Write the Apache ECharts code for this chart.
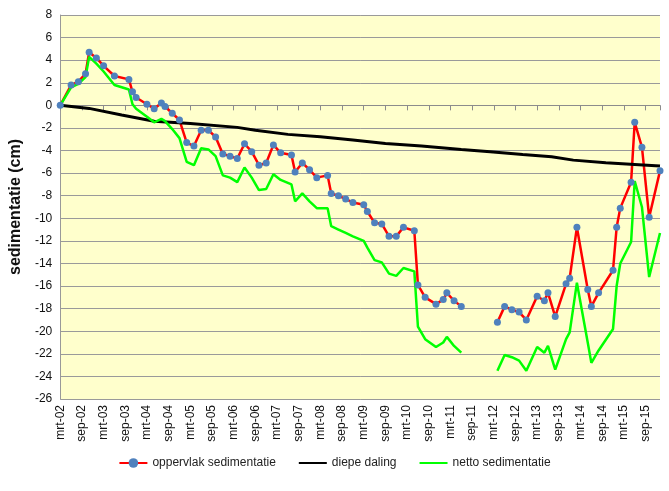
<!DOCTYPE html>
<html>
<head>
<meta charset="utf-8">
<script src="https://cdn.jsdelivr.net/npm/echarts@6/dist/echarts.min.js"></script>
<style>
html, body { margin: 0; padding: 0; background: #fff; }
#chart { width: 669px; height: 491px; }
</style>
</head>
<body>
<div id="chart"></div>
<script>
// maanden sinds mrt-02
var tickLabels = ['mrt-02','sep-02','mrt-03','sep-03','mrt-04','sep-04','mrt-05','sep-05','mrt-06','sep-06',
    'mrt-07','sep-07','mrt-08','sep-08','mrt-09','sep-09','mrt-10','sep-10','mrt-11','sep-11',
    'mrt-12','sep-12','mrt-13','sep-13','mrt-14','sep-14','mrt-15','sep-15'];

// meetmomenten (null = gat in de reeks)
var months = [0, 3, 5, 7, 8, 10, 12, 15, 19, 20, 21, 24, 26, 28, 29, 31, 33, 35, 37, 39,
    41, 43, 45, 47, 49, 51, 53, 55, 57, 59, 61, 64, 65, 67, 69, 71, 74, 75, 77, 79,
    81, 84, 85, 87, 89, 91, 93, 95, 98, 99, 101, 104, 106, 107, 109, 111, 115,
    121, 123, 125, 127, 129, 132, 134, 135, 137, 140, 141, 143, 146, 147, 149, 153, 154, 155,
    158, 159, 161, 163, 166];

var oppervlak = [0, 1.8, 2.1, 2.8, 4.7, 4.2, 3.5, 2.6, 2.3, 1.2, 0.7, 0.1, -0.3, 0.2, -0.1, -0.7, -1.3, -3.3, -3.6, -2.2,
    -2.2, -2.8, -4.3, -4.5, -4.7, -3.4, -4.1, -5.3, -5.1, -3.5, -4.2, -4.4, -5.9, -5.1, -5.7, -6.4, -6.2, -7.8, -8.0, -8.3,
    -8.6, -8.8, -9.4, -10.4, -10.5, -11.6, -11.6, -10.8, -11.1, -15.9, -17.0, -17.6, -17.2, -16.6, -17.3, -17.8, null,
    -19.2, -17.8, -18.1, -18.3, -19.0, -16.9, -17.3, -16.6, -18.7, -15.8, -15.3, -10.8, -16.3, -17.8, -16.6, -14.6, -10.8, -9.1,
    -6.8, -1.5, -3.7, -9.9, -5.8];

var netto = [0, 1.6, 1.9, 2.5, 4.3, 3.7, 3.0, 1.8, 1.4, 0.1, -0.3, -1.0, -1.5, -1.2, -1.4, -2.1, -2.9, -5.0, -5.3, -3.8,
    -3.9, -4.5, -6.2, -6.4, -6.8, -5.5, -6.4, -7.5, -7.4, -6.1, -6.6, -7.0, -8.5, -7.8, -8.5, -9.1, -9.1, -10.7, -11.0, -11.3,
    -11.6, -12.0, -12.6, -13.7, -13.9, -14.9, -15.1, -14.4, -14.7, -19.6, -20.7, -21.4, -21.0, -20.5, -21.3, -21.9, null,
    -23.5, -22.1, -22.3, -22.6, -23.5, -21.4, -21.9, -21.3, -23.4, -20.7, -20.1, -15.7, -21.0, -22.8, -21.7, -19.8, -16.0, -14.0,
    -12.1, -6.7, -9.0, -15.2, -11.3];

var diepeMonths = [0, 8, 17, 26, 36, 49, 54, 63, 72, 81, 90, 100, 111, 119, 128, 136, 142, 151, 159, 166];
var diepeDaling = [0, -0.27, -0.86, -1.4, -1.6, -1.95, -2.2, -2.57, -2.78, -3.07, -3.37, -3.6, -3.9, -4.1, -4.35, -4.55, -4.85, -5.08, -5.23, -5.38];

function pairs(xs, ys) {
    return xs.map(function (x, i) { return [x, ys[i] === null ? '-' : ys[i]]; });
}

var myChart = echarts.init(document.getElementById('chart'));
myChart.setOption({
    animation: false,
    textStyle: { fontFamily: 'Liberation Sans' },
    grid: {
        left: 59, right: 9, top: 15, bottom: 92,
        show: true, backgroundColor: '#FFFFCC', borderWidth: 0
    },
    legend: {
        bottom: 17,
        left: 'center',
        itemWidth: 28,
        itemHeight: 12,
        itemGap: 22,
        textStyle: { fontSize: 12, color: '#222' },
        data: [
            { name: 'oppervlak sedimentatie' },
            { name: 'diepe daling', itemStyle: { opacity: 0 } },
            { name: 'netto sedimentatie', itemStyle: { opacity: 0 } }
        ]
    },
    xAxis: [
        {
            type: 'value', min: 0, max: 166, interval: 6,
            axisLine: { show: false, onZero: false },
            axisTick: { show: false },
            splitLine: { show: false },
            axisLabel: {
                rotate: 90, fontSize: 12, color: '#111', margin: 6,
                padding: [7, 0, 0, 0],
                showMaxLabel: false,
                formatter: function (v) { return tickLabels[v / 6] || ''; }
            }
        },
        {
            type: 'value', min: 0, max: 166, interval: 6, position: 'bottom',
            axisLine: { show: true, onZero: true, onZeroAxisIndex: 0, lineStyle: { color: '#8c8c8c', width: 1 } },
            axisTick: { show: true, length: 5, lineStyle: { color: '#8c8c8c' } },
            axisLabel: { show: false },
            splitLine: { show: false }
        }
    ],
    yAxis: {
        type: 'value', min: -26, max: 8, interval: 2,
        name: 'sedimentatie (cm)',
        nameLocation: 'middle',
        nameGap: 30,
        nameTextStyle: { fontSize: 16, fontWeight: 'bold', color: '#111' },
        axisLine: { show: true, onZero: false, lineStyle: { color: '#999' } },
        axisTick: { show: false },
        axisLabel: { fontSize: 12, color: '#111', margin: 8 },
        splitLine: { lineStyle: { color: '#9a9a9a', width: 1 } }
    },
    series: [
        {
            name: 'oppervlak sedimentatie',
            type: 'line',
            xAxisIndex: 0,
            data: pairs(months, oppervlak),
            symbol: 'circle',
            symbolSize: 7,
            itemStyle: { color: '#4F81BD' },
            lineStyle: { color: '#FF0000', width: 2.5 },
            connectNulls: false
        },
        {
            name: 'diepe daling',
            type: 'line',
            xAxisIndex: 0,
            data: pairs(diepeMonths, diepeDaling),
            showSymbol: false,
            symbol: 'none',
            itemStyle: { color: '#000' },
            lineStyle: { color: '#000', width: 3 }
        },
        {
            name: 'netto sedimentatie',
            type: 'line',
            xAxisIndex: 0,
            data: pairs(months, netto),
            showSymbol: false,
            symbol: 'none',
            itemStyle: { color: '#00FF00' },
            lineStyle: { color: '#00FF00', width: 2.5 },
            connectNulls: false
        }
    ]
});
</script>
</body>
</html>
